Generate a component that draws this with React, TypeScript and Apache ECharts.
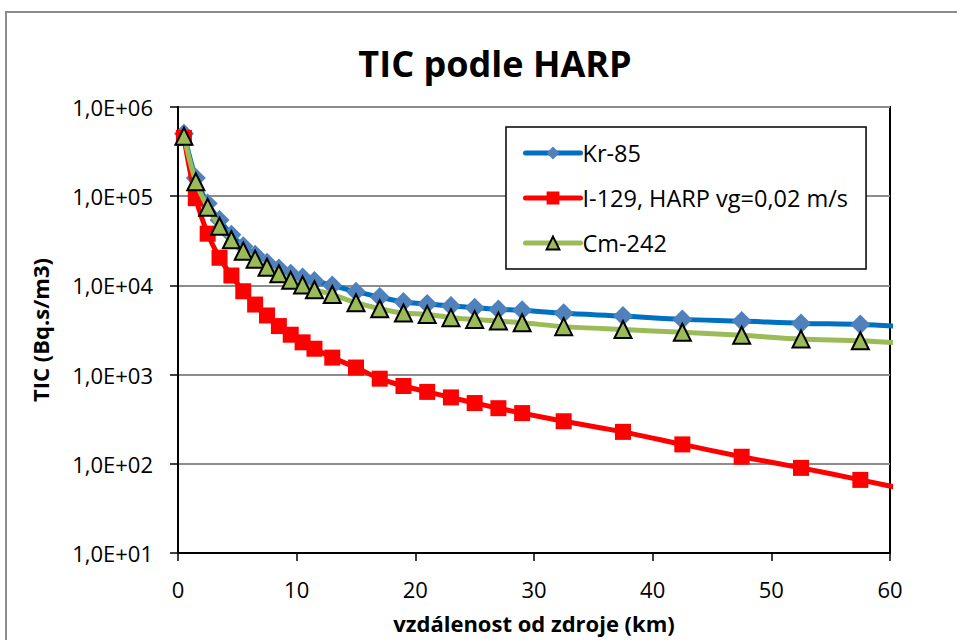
import React, { useEffect, useRef } from "react";
import * as echarts from "echarts";

const distances = [0.5, 1.5, 2.5, 3.5, 4.5, 5.5, 6.5, 7.5, 8.5, 9.5, 10.5, 11.5, 13, 15, 17, 19, 21, 23, 25, 27, 29, 32.5, 37.5, 42.5, 47.5, 52.5, 57.5, 62.5];
const kr85 = [500000, 160000, 83000, 54000, 37000, 27500, 22000, 18000, 15500, 13500, 12300, 11200, 10000, 8500, 7400, 6500, 6200, 5870, 5630, 5380, 5250, 4860, 4530, 4160, 3980, 3750, 3650, 3380];
const i129 = [450000, 95000, 38000, 20400, 12900, 8600, 6100, 4600, 3500, 2800, 2300, 1950, 1550, 1200, 900, 745, 640, 555, 480, 420, 370, 300, 228, 165, 120, 90, 66, 48];
const cm242 = [470000, 145000, 75000, 46000, 32500, 24200, 19700, 16000, 13500, 11400, 10100, 8950, 7900, 6400, 5480, 4900, 4730, 4350, 4160, 3980, 3820, 3450, 3200, 2980, 2760, 2500, 2400, 2200];
const seriesNames = ["Kr-85", "I-129, HARP vg=0,02 m/s", "Cm-242"];
const xTicks = [0, 10, 20, 30, 40, 50, 60];

const FONT = "'Open Sans', sans-serif";

export default function App() {
  const ref = useRef<HTMLDivElement>(null);
  useEffect(() => {
    if (!ref.current) return;
    const chart = echarts.init(ref.current, null, { renderer: "svg" });
    const pts = (vals: number[]) => distances.map((d, i) => [d, vals[i]]);
    chart.setOption({
      animation: false,
      backgroundColor: "#ffffff",
      textStyle: { fontFamily: FONT },
      title: {
        text: "TIC podle HARP",
        left: 490,
        top: 40,
        textAlign: "center",
        textStyle: { fontFamily: FONT, fontSize: 36, fontWeight: "bold", color: "#000" },
      },
      graphic: [
        {
          type: "rect",
          shape: { x: 6, y: 12, width: 1000, height: 700 },
          style: { fill: "none", stroke: "#8c8c8c", lineWidth: 2 },
          silent: true,
        },
      ],
      legend: {
        orient: "vertical",
        left: 506,
        top: 127,
        width: 361,
        padding: [14, 18, 14, 17],
        itemGap: 21,
        itemWidth: 55,
        itemHeight: 16,
        borderColor: "#000",
        borderWidth: 1.5,
        backgroundColor: "#fff",
        lineStyle: { width: 5, cap: "round" },
        textStyle: { fontFamily: FONT, fontSize: 23.5, color: "#000", padding: [0, 0, 0, -3] },
        data: seriesNames,
      },
      grid: {
        left: 178,
        right: 67,
        top: 107,
        bottom: 87,
        outerBoundsMode: "none",
        containLabel: false,
        show: true,
        borderColor: "#000",
        borderWidth: 2,
        backgroundColor: "transparent",
      },
      xAxis: {
        type: "value",
        min: 0,
        max: 60,
        interval: 10,
        name: "vzdálenost od zdroje (km)",
        nameLocation: "middle",
        nameGap: 59,
        nameTextStyle: { fontFamily: FONT, fontSize: 22, fontWeight: "bold", color: "#000" },
        axisLine: { lineStyle: { color: "#000", width: 2 } },
        axisTick: { show: true, length: 8, lineStyle: { color: "#000", width: 1.5 } },
        axisLabel: { fontFamily: FONT, fontSize: 22, color: "#000", margin: 25, customValues: xTicks },
        splitLine: { show: false },
      },
      yAxis: {
        type: "log",
        logBase: 10,
        min: 10,
        max: 1000000,
        name: "TIC (Bq.s/m3)",
        nameLocation: "middle",
        nameGap: 127,
        nameTextStyle: { fontFamily: FONT, fontSize: 22, fontWeight: "bold", color: "#000" },
        axisLine: { show: true, lineStyle: { color: "#000", width: 2 } },
        axisTick: { show: true, length: 8, lineStyle: { color: "#000", width: 1.5 } },
        axisLabel: {
          fontFamily: FONT,
          fontSize: 22,
          color: "#000",
          margin: 25,
          formatter: (v: number) => {
            const e = Math.round(Math.log10(v));
            return "1,0E+" + (e < 10 ? "0" + e : String(e));
          },
        },
        splitLine: { show: true, lineStyle: { color: "#8c8c8c", width: 2 } },
        minorTick: { show: false },
      },
      series: [
        {
          name: seriesNames[0],
          type: "line",
          data: pts(kr85),
          clip: true,
          smooth: 0.3,
          symbol: "diamond",
          symbolSize: 20,
          lineStyle: { color: "#0070C0", width: 5, cap: "round" },
          itemStyle: { color: "#4F81BD", borderWidth: 0 },
          z: 2,
        },
        {
          name: seriesNames[1],
          type: "line",
          data: pts(i129),
          clip: true,
          smooth: 0.3,
          symbol: "rect",
          symbolSize: 16,
          lineStyle: { color: "#FF0000", width: 5, cap: "round" },
          itemStyle: { color: "#FF0000", borderWidth: 0 },
          z: 3,
        },
        {
          name: seriesNames[2],
          type: "line",
          data: pts(cm242),
          clip: true,
          smooth: 0.3,
          symbol: "triangle",
          symbolSize: 17,
          lineStyle: { color: "#9BBB59", width: 5, cap: "round" },
          itemStyle: { color: "#9BBB59", borderColor: "#000", borderWidth: 2 },
          z: 4,
        },
      ],
    });
    return () => chart.dispose();
  }, []);
  return (
    <div
      ref={ref}
      style={{ position: "fixed", left: 0, top: 0, width: 957, height: 640 }}
    />
  );
}
